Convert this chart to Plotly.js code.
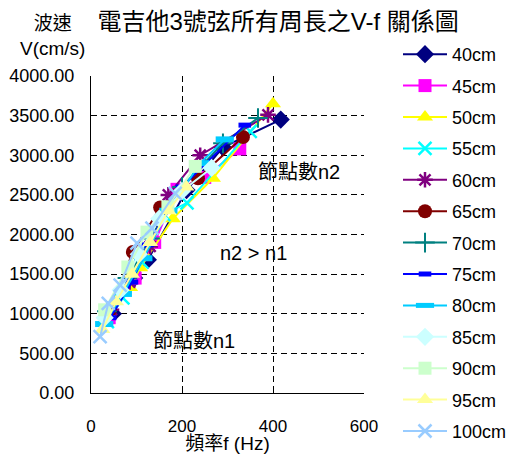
<!DOCTYPE html>
<html>
<head>
<meta charset="utf-8">
<script src="https://cdn.plot.ly/plotly-3.0.1.min.js"></script>
<style>html,body{margin:0;padding:0;background:#fff}#chart{width:519px;height:454px}</style>
</head>
<body>
<div id="chart"></div>
<script>
const seriesNames = ["40cm","45cm","50cm","55cm","60cm","65cm","70cm","75cm","80cm","85cm","90cm","95cm","100cm"];
const f40 = [48, 95, 125, 210, 290, 417];
const v40 = [1000, 1450, 1680, 2560, 3100, 3450];
const f45 = [40, 97, 140, 189, 250, 327];
const v45 = [950, 1450, 1900, 2570, 2720, 3080];
const f50 = [38, 86, 108, 180, 268, 400];
const v50 = [1000, 1330, 1580, 2200, 2710, 3650];
const f55 = [36, 70, 112, 160, 211, 350];
const v55 = [900, 1200, 1650, 2250, 2400, 3300];
const f60 = [45, 85, 130, 170, 240, 389];
const v60 = [1050, 1400, 1850, 2500, 3000, 3510];
const f65 = [42, 92, 152, 235, 334];
const v65 = [1050, 1780, 2340, 2710, 3230];
const f70 = [35, 80, 130, 200, 290, 367];
const v70 = [1030, 1450, 1950, 2600, 3150, 3470];
const f75 = [42, 90, 125, 200, 338];
const v75 = [950, 1400, 1870, 2600, 3380];
const f80 = [29, 70, 115, 170, 240, 294];
const v80 = [870, 1250, 1700, 2300, 2900, 3200];
const f85 = [30, 65, 105, 150, 200, 265];
const v85 = [950, 1300, 1750, 2200, 2550, 2840];
const f90 = [30, 81, 123, 169, 229];
const v90 = [1050, 1590, 2030, 2350, 2860];
const f95 = [25, 55, 90, 130, 170, 210];
const v95 = [800, 1150, 1500, 1900, 2300, 2600];
const f100 = [20, 38, 64, 101, 134, 185];
const v100 = [710, 1130, 1360, 1890, 2080, 2520];

const xs = [f40,f45,f50,f55,f60,f65,f70,f75,f80,f85,f90,f95,f100];
const ys = [v40,v45,v50,v55,v60,v65,v70,v75,v80,v85,v90,v95,v100];
const colors = ["#000080","#FF00FF","#FFFF00","#00FFFF","#800080","#800000","#008080","#0000FF","#00CCFF","#CCFFFF","#CCFFCC","#FFFF99","#99CCFF"];
const symbols = ["diamond","square","triangle-up","x-thin-open","asterisk-open","circle","cross-thin-open","line-ew-open","line-ew-open","diamond","square","triangle-up","x-thin-open"];
const sizes = [14,13,14,13,13,14,14,9,13,14,13,14,13];
const mlw = [0,0,0,2.5,2.5,0,2,5,6,0,0,0,2.5];

const FONT = "Liberation Sans, 'Noto Sans CJK TC', sans-serif";
const traces = seriesNames.map((n,i)=>({
  type:"scatter", mode:"lines+markers", name:n, x:xs[i], y:ys[i],
  legendgroup:"g"+i,
  line:{color:colors[i], width:2},
  marker:{symbol:symbols[i], size:sizes[i], color:colors[i], line:{color:colors[i], width:mlw[i]}}
}));

const layout = {
  width:519, height:454,
  margin:{l:91, r:155, t:76, b:61},
  paper_bgcolor:"#fff", plot_bgcolor:"#fff",
  font:{family:FONT, color:"#000", size:17},
  showlegend:true,
  title:{text:"電吉他3號弦所有周長之V-f 關係圖", x:0.536, xanchor:"center", xref:"container", y:1-22/454, yanchor:"middle", yref:"container", font:{size:24, family:FONT}},
  xaxis:{range:[0,600], tickvals:[0,200,400,600], ticktext:["0","200","400","600"], ticks:"inside", ticklen:6, tickcolor:"#000",
    showline:true, linecolor:"#000", linewidth:1, zeroline:false,
    showgrid:true, gridcolor:"#000", gridwidth:1, griddash:"6px,4px",
    ticklabelstandoff:18, tickfont:{size:17}, automargin:false,
    title:{text:"頻率f (Hz)", font:{size:19}, standoff:4}},
  yaxis:{range:[0,4000], tickvals:[0,500,1000,1500,2000,2500,3000,3500,4000], tickformat:".2f", ticks:"inside", ticklen:6, tickcolor:"#000",
    showline:true, linecolor:"#000", linewidth:1, zeroline:false,
    showgrid:true, gridcolor:"#000", gridwidth:1, griddash:"6px,4px",
    ticklabelstandoff:12, tickfont:{size:18}, automargin:false},
  legend:{x:398/519, xref:"container", xanchor:"left", y:1-36/454, yref:"container", yanchor:"top", bgcolor:"rgba(0,0,0,0)", font:{size:18}, itemwidth:44, tracegroupgap:5, maxheight:454},
  annotations:[
    {text:"波速<br>V(cm/s)", xref:"paper", yref:"paper", x:(52-91)/273, y:(393-36)/317, xanchor:"center", yanchor:"middle", showarrow:false, font:{size:19}},
    {text:"節點數n2", xref:"x", yref:"y", x:457, y:2790, xanchor:"center", yanchor:"middle", showarrow:false, font:{size:20}},
    {text:"n2 > n1", xref:"x", yref:"y", x:358, y:1767, xanchor:"center", yanchor:"middle", showarrow:false, font:{size:20}},
    {text:"節點數n1", xref:"x", yref:"y", x:226, y:656, xanchor:"center", yanchor:"middle", showarrow:false, font:{size:20}}
  ]
};
Plotly.newPlot("chart", traces, layout, {displayModeBar:false, staticPlot:true});
</script>
</body>
</html>
